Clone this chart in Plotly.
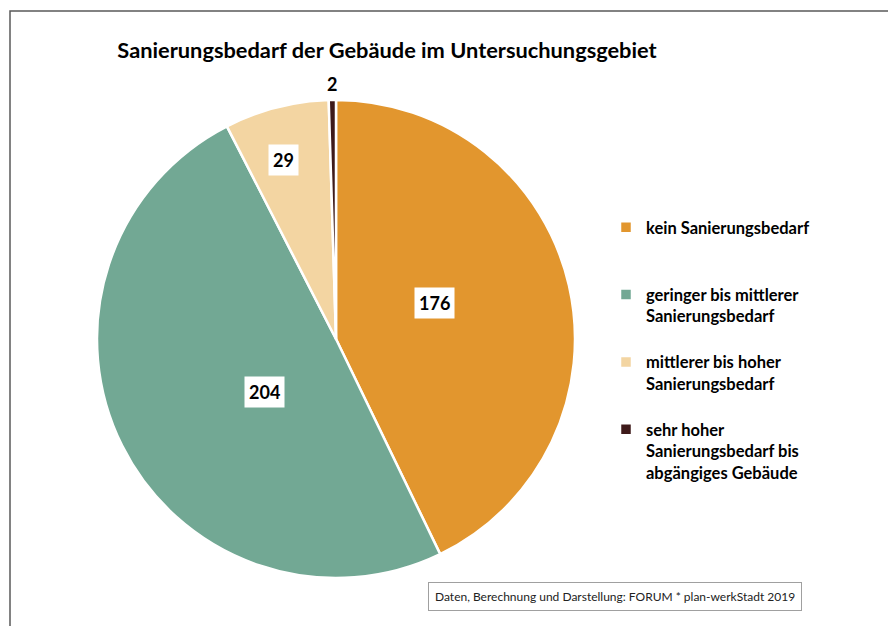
import math
import plotly.graph_objects as go

# ---- data ----
categories = [
    "kein Sanierungsbedarf",
    "geringer bis mittlerer<br>Sanierungsbedarf",
    "mittlerer bis hoher<br>Sanierungsbedarf",
    "sehr hoher<br>Sanierungsbedarf bis<br>abgängiges Gebäude",
]
values = [176, 204, 29, 2]
colors = ["#E2962E", "#72A894", "#F3D5A2", "#3E1A1A"]
title_text = "Sanierungsbedarf der Gebäude im Untersuchungsgebiet"
source_text = "Daten, Berechnung und Darstellung: FORUM * plan-werkStadt 2019"

W, H = 888, 626
FONT = "Lato"

# pie domain (paper coords)
dom_x = [97 / W, 575 / W]
dom_y = [1 - 578 / H, 1 - 100 / H]

# pad legend entries to equal heights (3 lines each)
legend_labels = []
for c in categories:
    n = c.count("<br>") + 1
    legend_labels.append("<b>" + c + "</b>" + "<br> " * max(0, 3 - n))

fig = go.Figure(
    go.Pie(
        labels=legend_labels,
        values=values,
        sort=False,
        direction="clockwise",
        rotation=0,
        marker=dict(colors=colors, line=dict(color="white", width=2.5)),
        textinfo="none",
        hoverinfo="label+value",
        domain=dict(x=dom_x, y=dom_y),
    )
)

# value labels, placed from slice mid-angles
total = sum(values)
cx = (dom_x[0] + dom_x[1]) / 2 * W
cy = (1 - (dom_y[0] + dom_y[1]) / 2) * H
R = (dom_x[1] - dom_x[0]) * W / 2
label_r = [0.44, 0.37, 0.78, 1.065]
label_dang = [-7, -10, -2, 0]
cum = 0
for i, v in enumerate(values):
    mid = (cum + v / 2) / total * 360 + label_dang[i]
    cum += v
    rr = R * label_r[i]
    px = cx + rr * math.sin(math.radians(mid))
    py = cy - rr * math.cos(math.radians(mid))
    fig.add_annotation(
        x=px / W, y=1 - py / H, xref="paper", yref="paper",
        xanchor="center", yanchor="middle",
        text=f"<b>{v}</b>", showarrow=False,
        font=dict(family=FONT, size=18, color="black"),
        bgcolor="white" if label_r[i] < 1 else "rgba(0,0,0,0)",
        borderpad=4,
    )

# source box
fig.add_annotation(
    x=614.5 / W, y=1 - 596 / H, xref="paper", yref="paper",
    xanchor="center", yanchor="middle",
    text=source_text, showarrow=False,
    font=dict(family=FONT, size=12, color="#222222"),
    bgcolor="white", bordercolor="#A0A0A0", borderwidth=1, borderpad=6,
)

# outer frame
fig.add_shape(
    type="rect", xref="paper", yref="paper",
    x0=10 / W, x1=1.05, y0=-0.05, y1=1 - 11 / H,
    line=dict(color="#595959", width=1.5), fillcolor="rgba(0,0,0,0)", layer="below",
)

fig.update_layout(
    width=W, height=H,
    margin=dict(l=0, r=0, t=0, b=0),
    paper_bgcolor="white", plot_bgcolor="white",
    title=dict(
        text=f"<b>{title_text}</b>",
        x=387 / W, xanchor="center", xref="paper",
        y=1 - 50 / H, yanchor="middle", yref="paper",
        font=dict(family=FONT, size=21.8, color="black"),
    ),
    legend=dict(
        x=606 / W, y=1 - 210 / H, xanchor="left", yanchor="top",
        valign="top",
        font=dict(family=FONT, size=16.5, color="black"),
        bgcolor="rgba(0,0,0,0)",
    ),
    font=dict(family=FONT),
)

fig.write_html(
    "out.html",
    config={"displayModeBar": False},
    post_script="document.body.style.margin='0';",
)
